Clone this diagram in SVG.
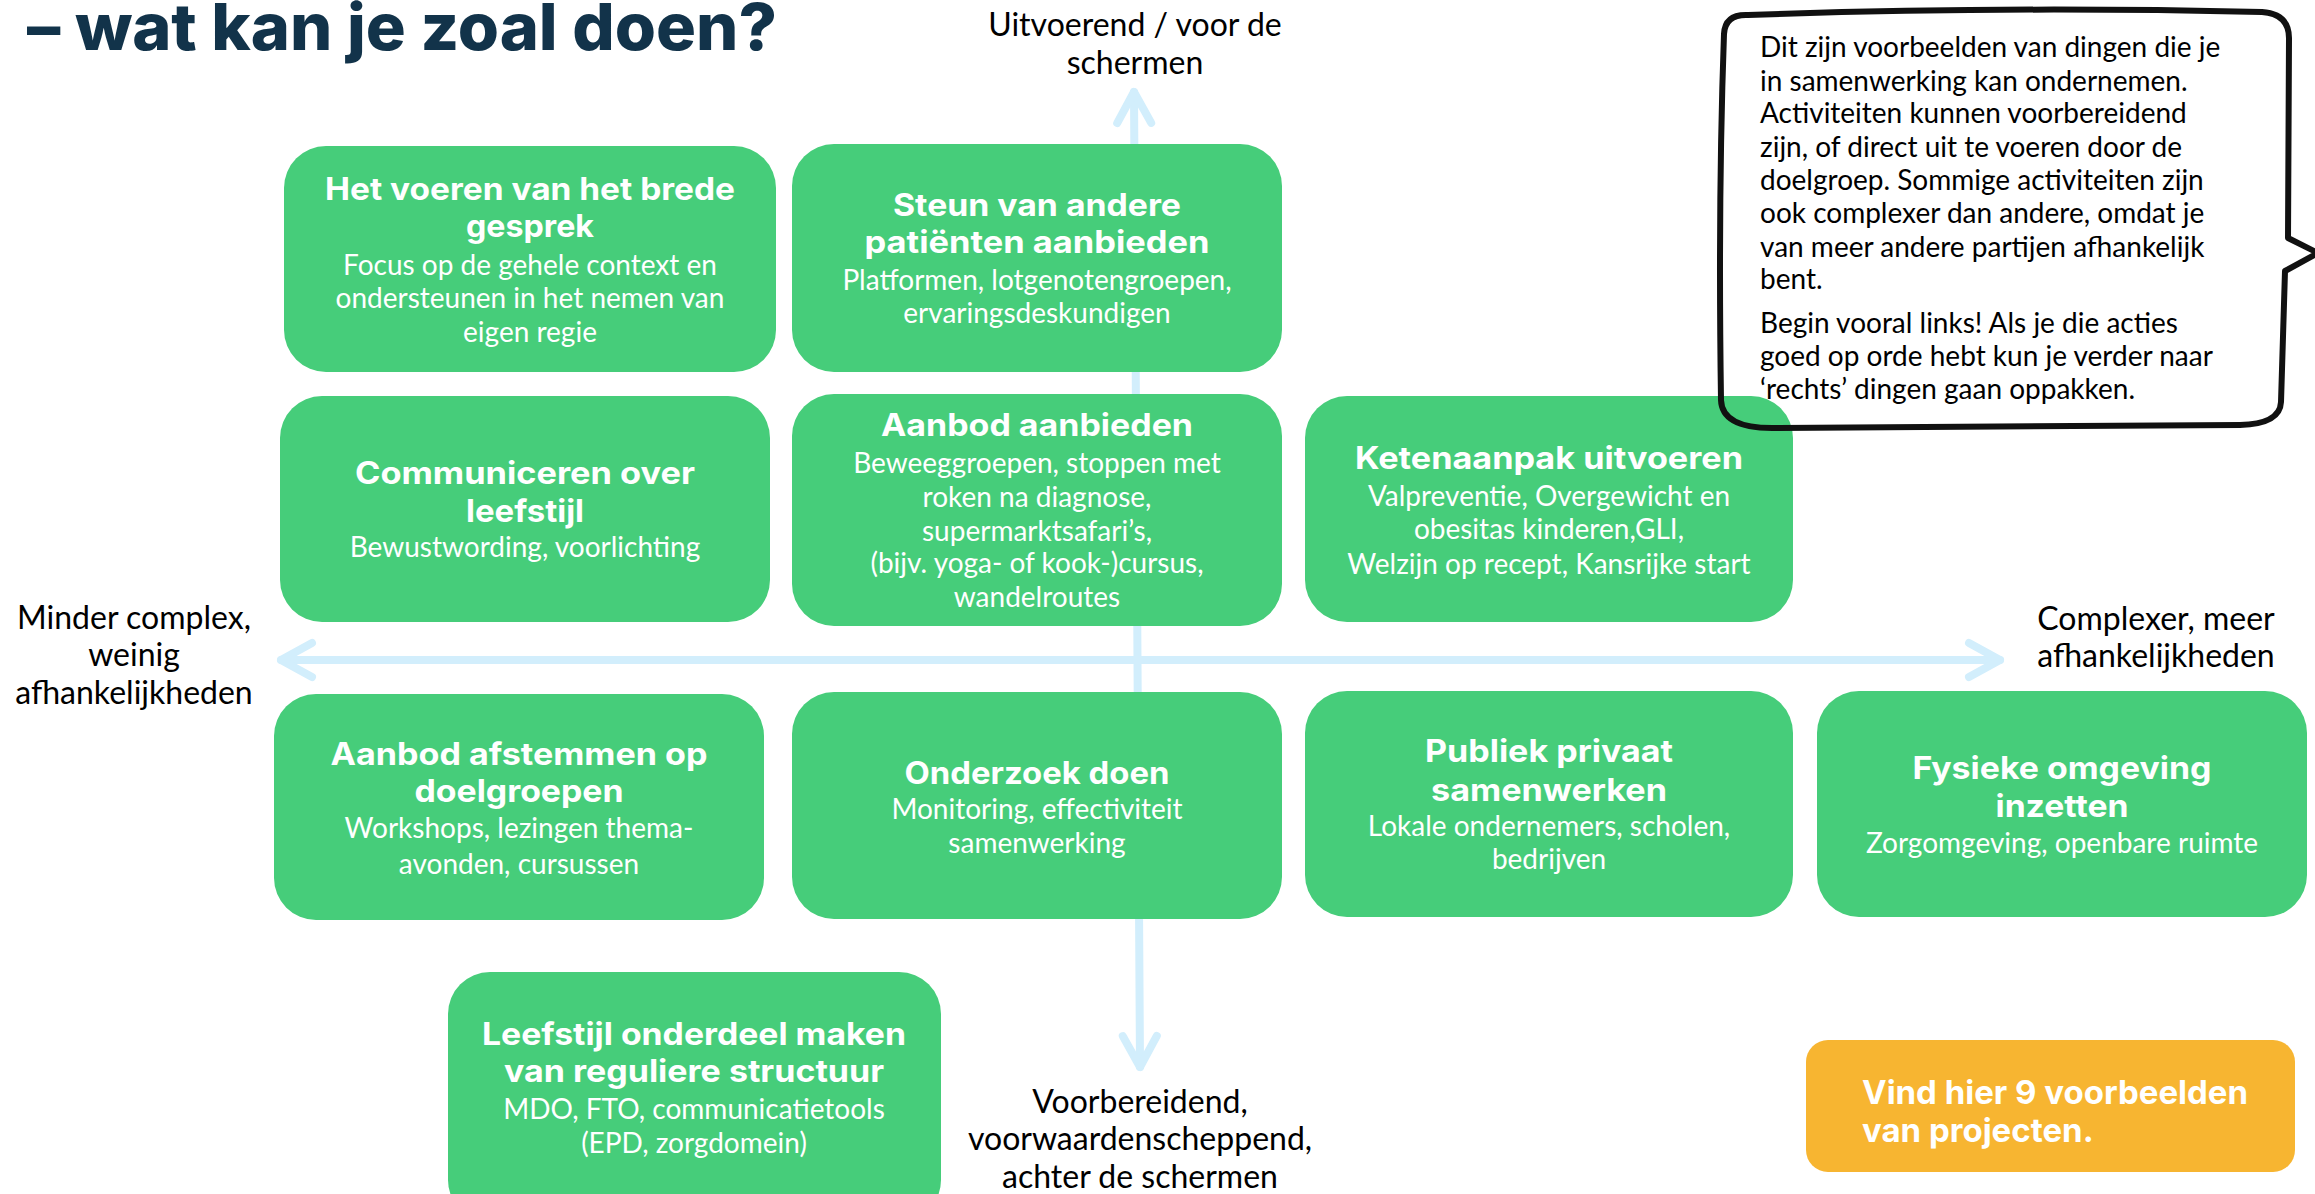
<svg xmlns="http://www.w3.org/2000/svg" width="2315" height="1194" viewBox="0 0 2315 1194">
<style>
.box{fill:#46CD7A}
.t{font-family:"Inter","DejaVu Sans",sans-serif;font-weight:700;font-size:31px;fill:#FFFFFF;text-anchor:middle}
.s{font-family:"Lato","Liberation Sans",sans-serif;font-size:28px;fill:#FFFFFF;text-anchor:middle}
.ax{font-family:"Lato","Liberation Sans",sans-serif;font-size:32px;fill:#000000;text-anchor:middle}
.bub{font-family:"Lato","Liberation Sans",sans-serif;font-size:28px;fill:#000000}
.btn{font-family:"Inter","DejaVu Sans",sans-serif;font-weight:700;font-size:33px;fill:#FFFFFF}
.axis{stroke:#D2EEFC;stroke-width:8;fill:none;stroke-linecap:round}
</style>
<defs>
<marker id="chev" markerUnits="userSpaceOnUse" viewBox="-45 -30 60 60" refX="0" refY="0" markerWidth="60" markerHeight="60" orient="auto-start-reverse">
<path d="M -31 -17 L 0 0 L -31 17" fill="none" stroke="#D2EEFC" stroke-width="8" stroke-linecap="round" stroke-linejoin="round"/>
</marker>
</defs>
<rect width="2315" height="1194" fill="#FFFFFF"/>
<text id="title" x="27" y="50" font-family="Inter, 'DejaVu Sans', sans-serif" font-weight="800" font-size="65" fill="#12334A" textLength="750" lengthAdjust="spacingAndGlyphs">– wat kan je zoal doen?</text>
<g id="connectors">
<line class="axis" x1="1134" y1="92" x2="1140" y2="1067" marker-start="url(#chev)" marker-end="url(#chev)"/>
<line class="axis" x1="281" y1="660" x2="2000" y2="660" marker-start="url(#chev)" marker-end="url(#chev)"/>
</g>
<g id="axis-labels">
<text class="ax" x="1135" y="36">Uitvoerend / voor de</text>
<text class="ax" x="1135" y="74">schermen</text>
<text class="ax" x="134" y="629">Minder complex,</text>
<text class="ax" x="134" y="666">weinig</text>
<text class="ax" x="134" y="704">afhankelijkheden</text>
<text class="ax" x="2156" y="630">Complexer, meer</text>
<text class="ax" x="2156" y="667">afhankelijkheden</text>
<text class="ax" x="1140" y="1113">Voorbereidend,</text>
<text class="ax" x="1140" y="1150">voorwaardenscheppend,</text>
<text class="ax" x="1140" y="1188">achter de schermen</text>
</g>
<g id="n1">
<rect class="box" x="284" y="146" width="492" height="226" rx="42"/>
<text class="t" x="530" y="200" textLength="410" lengthAdjust="spacingAndGlyphs">Het voeren van het brede</text>
<text class="t" x="530" y="237" textLength="128" lengthAdjust="spacingAndGlyphs">gesprek</text>
<text class="s" x="530" y="275">Focus op de gehele context en</text>
<text class="s" x="530" y="308">ondersteunen in het nemen van</text>
<text class="s" x="530" y="342">eigen regie</text>
</g>
<g id="n2">
<rect class="box" x="792" y="144" width="490" height="228" rx="42"/>
<text class="t" x="1037" y="216" textLength="288" lengthAdjust="spacingAndGlyphs">Steun van andere</text>
<text class="t" x="1037" y="253" textLength="345" lengthAdjust="spacingAndGlyphs">patiënten aanbieden</text>
<text class="s" x="1037" y="290">Platformen, lotgenotengroepen,</text>
<text class="s" x="1037" y="323">ervaringsdeskundigen</text>
</g>
<g id="n3">
<rect class="box" x="280" y="396" width="490" height="226" rx="42"/>
<text class="t" x="525" y="484" textLength="340" lengthAdjust="spacingAndGlyphs">Communiceren over</text>
<text class="t" x="525" y="522" textLength="118" lengthAdjust="spacingAndGlyphs">leefstijl</text>
<text class="s" x="525" y="557">Bewustwording, voorlichting</text>
</g>
<g id="n4">
<rect class="box" x="792" y="394" width="490" height="232" rx="42"/>
<text class="t" x="1037" y="436" textLength="312" lengthAdjust="spacingAndGlyphs">Aanbod aanbieden</text>
<text class="s" x="1037" y="473">Beweeggroepen, stoppen met</text>
<text class="s" x="1037" y="507">roken na diagnose,</text>
<text class="s" x="1037" y="541">supermarktsafari’s,</text>
<text class="s" x="1037" y="573">(bijv. yoga- of kook-)cursus,</text>
<text class="s" x="1037" y="607">wandelroutes</text>
</g>
<g id="n5">
<rect class="box" x="1305" y="396" width="488" height="226" rx="42"/>
<text class="t" x="1549" y="469" textLength="388" lengthAdjust="spacingAndGlyphs">Ketenaanpak uitvoeren</text>
<text class="s" x="1549" y="506">Valpreventie, Overgewicht en</text>
<text class="s" x="1549" y="539">obesitas kinderen,GLI,</text>
<text class="s" x="1549" y="574">Welzijn op recept, Kansrijke start</text>
</g>
<g id="n6">
<rect class="box" x="274" y="694" width="490" height="226" rx="42"/>
<text class="t" x="519" y="765" textLength="377" lengthAdjust="spacingAndGlyphs">Aanbod afstemmen op</text>
<text class="t" x="519" y="802" textLength="209" lengthAdjust="spacingAndGlyphs">doelgroepen</text>
<text class="s" x="519" y="838">Workshops, lezingen thema-</text>
<text class="s" x="519" y="874">avonden, cursussen</text>
</g>
<g id="n7">
<rect class="box" x="792" y="692" width="490" height="227" rx="42"/>
<text class="t" x="1037" y="784" textLength="265" lengthAdjust="spacingAndGlyphs">Onderzoek doen</text>
<text class="s" x="1037" y="819">Monitoring, effectiviteit</text>
<text class="s" x="1037" y="853">samenwerking</text>
</g>
<g id="n8">
<rect class="box" x="1305" y="691" width="488" height="226" rx="42"/>
<text class="t" x="1549" y="762" textLength="248" lengthAdjust="spacingAndGlyphs">Publiek privaat</text>
<text class="t" x="1549" y="801" textLength="236" lengthAdjust="spacingAndGlyphs">samenwerken</text>
<text class="s" x="1549" y="836">Lokale ondernemers, scholen,</text>
<text class="s" x="1549" y="869">bedrijven</text>
</g>
<g id="n9">
<rect class="box" x="1817" y="691" width="490" height="226" rx="42"/>
<text class="t" x="2062" y="779" textLength="299" lengthAdjust="spacingAndGlyphs">Fysieke omgeving</text>
<text class="t" x="2062" y="817" textLength="133" lengthAdjust="spacingAndGlyphs">inzetten</text>
<text class="s" x="2062" y="853">Zorgomgeving, openbare ruimte</text>
</g>
<g id="n10">
<rect class="box" x="448" y="972" width="493" height="250" rx="42"/>
<text class="t" x="694" y="1045" textLength="424" lengthAdjust="spacingAndGlyphs">Leefstijl onderdeel maken</text>
<text class="t" x="694" y="1082" textLength="380" lengthAdjust="spacingAndGlyphs">van reguliere structuur</text>
<text class="s" x="694" y="1119">MDO, FTO, communicatietools</text>
<text class="s" x="694" y="1153">(EPD, zorgdomein)</text>
</g>
<g id="button">
<rect x="1806" y="1040" width="489" height="132" rx="22" fill="#F7B531"/>
<text class="btn" x="1862" y="1104" textLength="386" lengthAdjust="spacingAndGlyphs">Vind hier 9 voorbeelden</text>
<text class="btn" x="1862" y="1142">van projecten.</text>
</g>
<g id="bubble">
<path d="M 1724 34 Q 1725 14 1748 15 Q 2000 6 2262 12 Q 2289 14 2289 38 L 2288 238 L 2318 253 L 2285 271 L 2281 402 Q 2280 424 2240 425 Q 2000 427 1772 428 Q 1722 428 1721 400 Q 1718 200 1724 34 Z" fill="none" stroke="#111111" stroke-width="6" stroke-linejoin="round"/>
<text class="bub" x="1760" y="57">Dit zijn voorbeelden van dingen die je</text>
<text class="bub" x="1760" y="91">in samenwerking kan ondernemen.</text>
<text class="bub" x="1760" y="123">Activiteiten kunnen voorbereidend</text>
<text class="bub" x="1760" y="157">zijn, of direct uit te voeren door de</text>
<text class="bub" x="1760" y="190">doelgroep. Sommige activiteiten zijn</text>
<text class="bub" x="1760" y="223">ook complexer dan andere, omdat je</text>
<text class="bub" x="1760" y="257">van meer andere partijen afhankelijk</text>
<text class="bub" x="1760" y="289">bent.</text>
<text class="bub" x="1760" y="333">Begin vooral links! Als je die acties</text>
<text class="bub" x="1760" y="366">goed op orde hebt kun je verder naar</text>
<text class="bub" x="1760" y="399">‘rechts’ dingen gaan oppakken.</text>
</g>
</svg>
